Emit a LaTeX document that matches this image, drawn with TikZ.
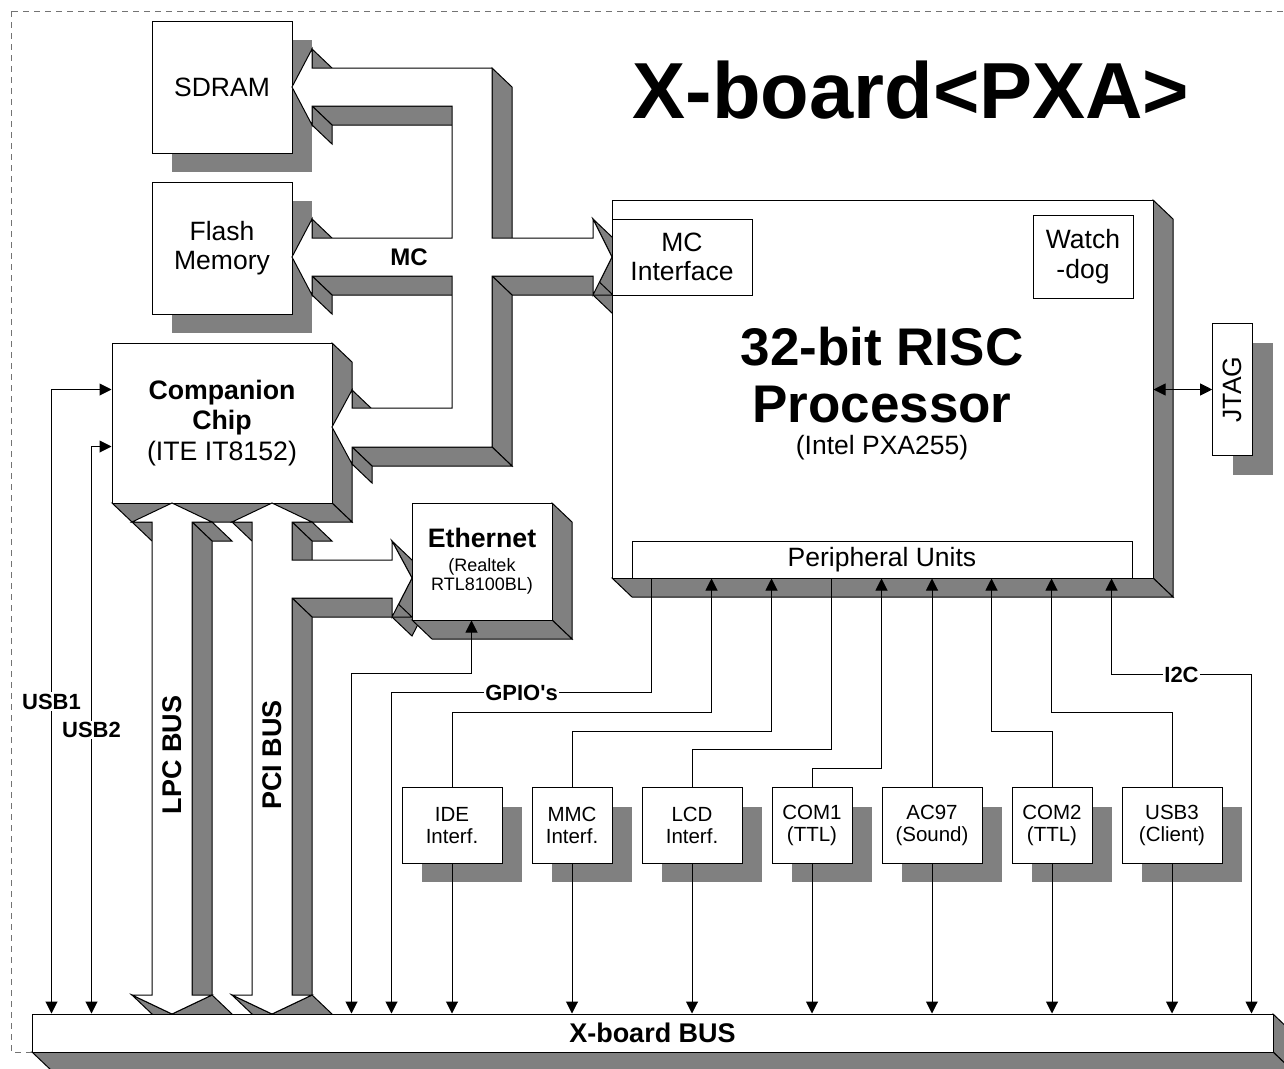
\documentclass[tikz,border=0pt]{standalone}
\usepackage{fontspec}
\setmainfont{Liberation Sans}
\usepackage{tikz}
\usetikzlibrary{arrows.meta,shadows}

\definecolor{boardgray}{RGB}{128,128,128}

\tikzset{
  frontface/.style={draw, fill=white},
  sideface/.style={draw, fill=boardgray},
  flatshadow/.style={drop shadow={shadow xshift=20pt, shadow yshift=-19pt, fill=boardgray, draw=none, opacity=1}},
  blockbox/.style={draw, fill=white, align=center, inner sep=0pt, font=\fontsize{26.5}{29.5}\selectfont},
  iobox/.style={blockbox, flatshadow, minimum height=75.6pt, font=\fontsize{20.5}{22}\selectfont},
  buslabel/.style={fill=white, inner sep=1.5pt, font=\bfseries\fontsize{22}{22}\selectfont},
  busname/.style={rotate=90, font=\bfseries\fontsize{27}{27}\selectfont}
}

% side faces of a solid: first point, then the other points back to the first
\newcommand{\extrude}[3]{%
  \xdef\prevx{#1}\xdef\prevy{#2}%
  \foreach \x/\y in {#3}{%
    \pgfmathsetmacro{\facing}{0.2*(\y-\prevy)-0.19*(\x-\prevx)}%
    \ifdim\facing pt>0pt
      \filldraw[sideface] (\prevx,\prevy) -- (\x,\y) -- (\x+20,\y+19) -- (\prevx+20,\prevy+19) -- cycle;
    \fi
    \xdef\prevx{\x}\xdef\prevy{\y}%
  }}
\newcommand{\solid}[3]{%
  \extrude{#1}{#2}{#3}%
  \filldraw[frontface] (#1,#2) \foreach \x/\y in {#3}{ -- (\x,\y)} -- cycle;}

\begin{document}
\begin{tikzpicture}[x=1pt, y=-1pt, >={Triangle[length=12pt,width=12pt]}, line width=1pt]
\useasboundingbox (0,0) rectangle (1284,1068);
\draw[black!55, dash pattern=on 6pt off 5pt] (11.5,11) rectangle (1300,1052);

\node[anchor=base, font=\bfseries\fontsize{79.5}{80}\selectfont] (title) at (911,118) {X-board<PXA>};

% memories
\node[blockbox, flatshadow, minimum width=140pt, minimum height=132pt] (sdram) at (222,87) {SDRAM};
\node[blockbox, flatshadow, minimum width=140pt, minimum height=132pt] (flash) at (222,248) {Flash\\Memory};

% companion chip
\extrude{112}{343}{332/343, 332/503, 112/503, 112/343}
\node[blockbox, minimum width=220pt, minimum height=160pt, font=\fontsize{26.7}{30.5}\selectfont] (chip) at (222,423) {\textbf{Companion}\\\textbf{Chip}\\(ITE IT8152)};

% MC bus
\solid{292}{87}{312/49, 312/68, 492/68, 492/238, 593/238, 593/219, 612/257, 593/295, 593/276, 492/276, 492/447, 352/447, 352/464, 332/427, 352/390, 352/408, 452/408, 452/276, 312/276, 312/295, 292/257, 312/219, 312/238, 452/238, 452/106, 312/106, 312/125, 292/87}
\node[font=\bfseries\fontsize{24}{24}\selectfont] (mc) at (409,257) {MC};

% LPC and PCI buses
\solid{172}{503}{212/522, 192/522, 192/995, 212/995, 172/1014, 132/995, 152/995, 152/522, 132/522, 172/503}
\solid{272}{503}{312/522, 292/522, 292/560, 392/560, 392/541, 412/578, 392/617, 392/598, 292/598, 292/995, 312/995, 272/1014, 232/995, 252/995, 252/522, 232/522, 272/503}
\node[busname] (lpc) at (172,755) {LPC BUS};
\node[busname] (pci) at (272,755) {PCI BUS};

% ethernet
\extrude{412}{503}{552/503, 552/620, 412/620, 412/503}
\node[blockbox, minimum width=140pt, minimum height=117pt, font=\fontsize{18}{19}\selectfont] (eth) at (482,561.5) {{\bfseries\fontsize{26.7}{26.7}\selectfont Ethernet}\\[5pt](Realtek\\RTL8100BL)};

% processor
\extrude{612}{200}{1153/200, 1153/578, 612/578, 612/200}
\node[blockbox, minimum width=541pt, minimum height=378pt] (cpu) at (882.5,389) {};
\node[align=center, font=\bfseries\fontsize{53}{57}\selectfont] (cpuname) at (882,375) {32-bit RISC\\Processor};
\node[font=\fontsize{26.5}{29}\selectfont] (cpupart) at (882,448) {(Intel PXA255)};
\node[blockbox, minimum width=140pt, minimum height=76pt] (mcif) at (682,257) {MC\\Interface};
\node[blockbox, minimum width=100pt, minimum height=83pt] (wdog) at (1083,256.5) {Watch\\-dog};
\node[blockbox, minimum width=500pt, minimum height=37pt] (periph) at (882,559.5) {Peripheral Units};

\node[blockbox, flatshadow, minimum width=40pt, minimum height=132pt] (jtag) at (1232.7,389.5) {\rotatebox{90}{JTAG}};

% interfaces
\node[iobox, minimum width=100pt] (ide) at (452,825.5) {IDE\\Interf.};
\node[iobox, minimum width=80pt] (mmc) at (572,825.5) {MMC\\Interf.};
\node[iobox, minimum width=100pt] (lcd) at (692,825.5) {LCD\\Interf.};
\node[iobox, minimum width=80pt] (com1) at (812,825.5) {COM1\\(TTL)};
\node[iobox, minimum width=100pt] (ac97) at (932,825.5) {AC97\\(Sound)};
\node[iobox, minimum width=80pt] (com2) at (1052,825.5) {COM2\\(TTL)};
\node[iobox, minimum width=100pt] (usb3) at (1172,825.5) {USB3\\(Client)};

% board bus
\extrude{32}{1014}{1273/1014, 1273/1052, 32/1052, 32/1014}
\node[blockbox, minimum width=1241pt, minimum height=38pt, font=\bfseries\fontsize{27}{27}\selectfont] (xbus) at (652.5,1033) {X-board BUS};

\draw[<->] ([yshift=-47pt]chip.north west) -| node[pos=0.75, buslabel] (usb1) {USB1} ([xshift=20pt]xbus.north west);
\draw[<->] ([yshift=-104pt]chip.north west) -| node[pos=0.75, buslabel] (usb2) {USB2} ([xshift=60pt]xbus.north west);
\draw[<->] ([xshift=60pt]eth.south west) -- ++(0,53) -| ([xshift=320pt]xbus.north west);
\draw[->] ([xshift=20pt]periph.south west) -- ++(0,114) -| node[pos=0.25, buslabel] (gpio) {GPIO\textquotesingle s} ([xshift=360pt]xbus.north west);
\draw[<-] ([xshift=80pt]periph.south west) -- ++(0,134) -| (ide.north);
\draw[<-] ([xshift=140pt]periph.south west) -- ++(0,153) -| (mmc.north);
\draw ([xshift=200pt]periph.south west) -- ++(0,171) -| (lcd.north);
\draw[<-] ([xshift=250pt]periph.south west) -- ++(0,190) -| (com1.north);
\draw[<-] (periph.south -| ac97.north) -- (ac97.north);
\draw[<-] ([xshift=360pt]periph.south west) -- ++(0,153) -| (com2.north);
\draw[<-] ([xshift=420pt]periph.south west) -- ++(0,134) -| (usb3.north);
\draw[<->] ([xshift=480pt]periph.south west) -- ++(0,96) -| node[pos=0.25, buslabel] (i2c) {I2C} ([xshift=1220pt]xbus.north west);
\foreach \n in {ide,mmc,lcd,com1,ac97,com2,usb3}
  \draw[->] (\n.south) -- (\n.south |- xbus.north);
\draw[<->] (cpu.east |- jtag.west) -- (jtag.west);
\end{tikzpicture}
\end{document}
